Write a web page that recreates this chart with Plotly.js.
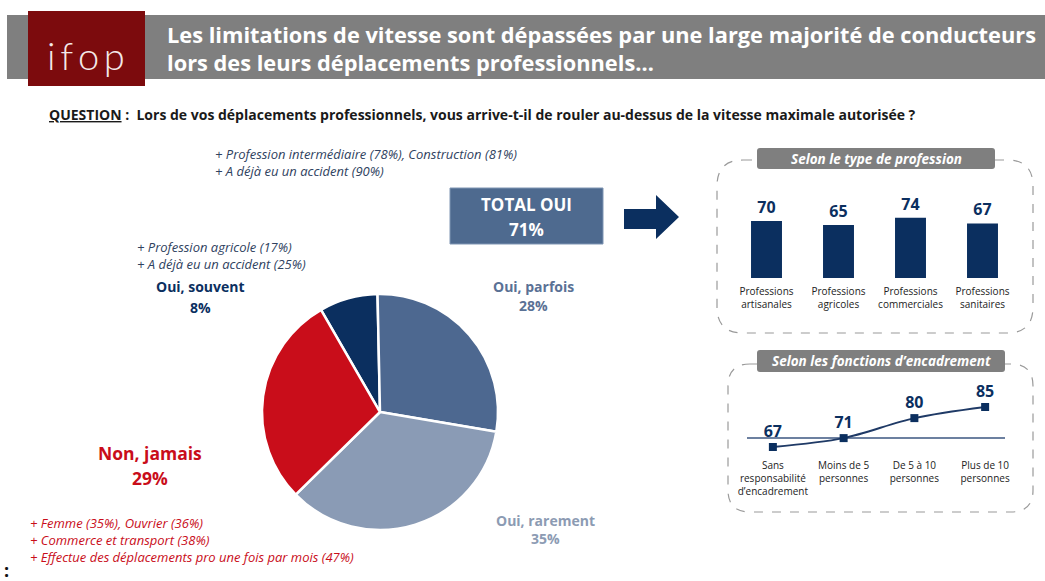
<!DOCTYPE html>
<html>
<head>
<meta charset="utf-8">
<script src="https://cdn.plot.ly/plotly-3.0.1.min.js"></script>
<style>
  html, body { margin: 0; padding: 0; background: #fff; }
  #chart { width: 1045px; height: 581px; }
</style>
</head>
<body>
<div id="chart"></div>
<script>
  const W = 1045;
  const H = 581;
  const FONT = "'Open Sans', Lato, sans-serif";
  const NAVY = "#0b2f5f";

  // data
  const headerLines = [
    "Les limitations de vitesse sont dépassées par une large majorité de conducteurs",
    "lors des leurs déplacements professionnels…",
  ];
  const questionText = "Lors de vos déplacements professionnels, vous arrive-t-il de rouler au-dessus de la vitesse maximale autorisée ?";

  const pieLabels = ["Oui, souvent", "Oui, parfois", "Oui, rarement", "Non, jamais"];
  const pieValues = [8, 28, 35, 29];
  const pieColors = [NAVY, "#4d6890", "#8a9bb5", "#c90d1a"];
  const totalOui = 71;

  const notesOften = ["+ Profession agricole (17%)", "+ A déjà eu un accident (25%)"];
  const notesSometimes = ["+ Profession intermédiaire (78%), Construction (81%)", "+ A déjà eu un accident (90%)"];
  const notesNever = [
    "+ Femme (35%), Ouvrier (36%)",
    "+ Commerce et transport (38%)",
    "+ Effectue des déplacements pro une fois par mois (47%)",
  ];

  const profCategories = [
    "Professions<br>artisanales",
    "Professions<br>agricoles",
    "Professions<br>commerciales",
    "Professions<br>sanitaires",
  ];
  const profValues = [70, 65, 74, 67];

  const encCategories = [
    "Sans<br>responsabilité<br>d’encadrement",
    "Moins de 5<br>personnes",
    "De 5 à 10<br>personnes",
    "Plus de 10<br>personnes",
  ];
  const encValues = [67, 71, 80, 85];

  // pixel -> paper helpers
  const X = (p) => p / W;
  const Y = (p) => 1 - p / H;

  function roundRect(x0, y0, x1, y1, r) {
    const pt = (x, y) => X(x) + "," + Y(y);
    return "M" + pt(x0 + r, y0) +
      " L" + pt(x1 - r, y0) + " Q" + pt(x1, y0) + " " + pt(x1, y0 + r) +
      " L" + pt(x1, y1 - r) + " Q" + pt(x1, y1) + " " + pt(x1 - r, y1) +
      " L" + pt(x0 + r, y1) + " Q" + pt(x0, y1) + " " + pt(x0, y1 - r) +
      " L" + pt(x0, y0 + r) + " Q" + pt(x0, y0) + " " + pt(x0 + r, y0) + " Z";
  }

  function polygon(points) {
    return "M" + points.map((p) => X(p[0]) + "," + Y(p[1])).join(" L") + " Z";
  }

  function note(x, y, text, size, color, extra) {
    return Object.assign({
      xref: "paper", yref: "paper", x: X(x), y: Y(y),
      xanchor: "center", yanchor: "middle",
      text: text, showarrow: false,
      font: { family: FONT, size: size, color: color },
    }, extra || {});
  }

  const traces = [
    {
      type: "pie",
      labels: pieLabels,
      values: pieValues,
      sort: false,
      direction: "clockwise",
      rotation: -30,
      textinfo: "none",
      hoverinfo: "label+percent",
      marker: { colors: pieColors, line: { color: "#ffffff", width: 2.5 } },
      domain: { x: [X(262), X(498)], y: [Y(530), Y(294)] },
    },
    {
      type: "bar",
      x: profCategories,
      y: profValues,
      xaxis: "x",
      yaxis: "y",
      width: 0.43,
      marker: { color: NAVY },
      text: profValues.map(String),
      textposition: "outside",
      cliponaxis: false,
      textfont: { family: FONT, size: 16, color: NAVY, weight: 700 },
      hoverinfo: "x+y",
    },
    {
      type: "scatter",
      mode: "lines+markers+text",
      x: encCategories,
      y: encValues,
      xaxis: "x2",
      yaxis: "y2",
      line: { color: "#1f3a66", width: 2, shape: "spline", smoothing: 0.9 },
      marker: { symbol: "square", size: 8, color: NAVY },
      text: encValues.map(String),
      textposition: "top center",
      cliponaxis: false,
      textfont: { family: FONT, size: 16, color: NAVY, weight: 700 },
      hoverinfo: "x+y",
    },
  ];

  const catAxis = {
    type: "category",
    range: [-0.5, 3.5],
    showgrid: false,
    zeroline: false,
    showline: false,
    ticks: "",
    tickfont: { family: FONT, size: 10, color: "#222" },
    fixedrange: true,
  };

  const pieLabelPos = [[200, 287, 307], [533, 286, 305], [545, 520, 538], [150, 453, 478]];
  const pieLabelStyle = [
    { size: 14, color: NAVY },
    { size: 14, color: "#5a7195" },
    { size: 14, color: "#8c9bb3" },
    { size: 17.5, color: "#c90d1a" },
  ];

  const annotations = [
    note(165, 35, "<b>" + headerLines[0] + "</b>", 21.8, "#ffffff", { xanchor: "left" }),
    note(165, 62, "<b>" + headerLines[1] + "</b>", 21.8, "#ffffff", { xanchor: "left" }),
    note(86, 55, "i\u2009f\u2009o\u2009p", 38, "#f4e9e9",
      { font: { family: "Lato, sans-serif", size: 38, color: "#f4e9e9", weight: 300 } }),
    note(47, 115, "<b><u>QUESTION</u> :  " + questionText + "</b>", 14, "#1a1a1a", { xanchor: "left" }),
    note(213, 162, "<i>" + notesSometimes.join("<br>") + "</i>", 13, "#2f4260", { xanchor: "left", align: "left" }),
    note(135, 255.5, "<i>" + notesOften.join("<br>") + "</i>", 13, "#2f4260", { xanchor: "left", align: "left" }),
    note(28, 540, "<i>" + notesNever.join("<br>") + "</i>", 13, "#c90d1a", { xanchor: "left", align: "left" }),
    note(6, 570, "<b>:</b>", 18, "#111"),
    note(526, 204, "<b>TOTAL OUI</b>", 17, "#ffffff"),
    note(526, 229, "<b>" + totalOui + "%</b>", 17, "#ffffff"),
    note(876, 158.5, "<b><i>Selon le type de profession</i></b>", 13.5, "#ffffff"),
    note(881, 361, "<b><i>Selon les fonctions d’encadrement</i></b>", 13.5, "#ffffff"),
  ];
  pieLabels.forEach((lab, i) => {
    const s = pieLabelStyle[i];
    const p = pieLabelPos[i];
    annotations.push(note(p[0], p[1], "<b>" + lab + "</b>", s.size, s.color));
    annotations.push(note(p[0], p[2], "<b>" + pieValues[i] + "%</b>", s.size, s.color));
  });

  const shapes = [
    { type: "rect", xref: "paper", yref: "paper", x0: X(7), x1: X(1045), y0: Y(79), y1: Y(15),
      fillcolor: "#7f7f7f", line: { width: 0 } },
    { type: "rect", xref: "paper", yref: "paper", x0: X(28), x1: X(145), y0: Y(86), y1: Y(11),
      fillcolor: "#7c0b0d", line: { width: 0 } },
    { type: "rect", xref: "paper", yref: "paper", x0: X(450), x1: X(603), y0: Y(244), y1: Y(188),
      fillcolor: "#4e6a8f", line: { color: "#7f95b3", width: 1 } },
    { type: "path", xref: "paper", yref: "paper",
      path: polygon([[624, 209], [656, 209], [656, 195], [679, 217], [656, 239], [656, 229], [624, 229]]),
      fillcolor: NAVY, line: { width: 0 } },
    { type: "path", xref: "paper", yref: "paper", path: roundRect(717, 160, 1033, 333, 26),
      line: { color: "#9a9a9a", width: 1.2, dash: "dash" } },
    { type: "path", xref: "paper", yref: "paper", path: roundRect(757, 148, 995, 169, 3),
      fillcolor: "#7f7f7f", line: { width: 0 } },
    { type: "path", xref: "paper", yref: "paper", path: roundRect(728, 364, 1033, 512, 22),
      line: { color: "#9a9a9a", width: 1.2, dash: "dash" } },
    { type: "path", xref: "paper", yref: "paper", path: roundRect(757, 350, 1005, 372, 3),
      fillcolor: "#7f7f7f", line: { width: 0 } },
    { type: "line", xref: "paper", yref: "y2", x0: X(747), x1: X(1005), y0: totalOui, y1: totalOui,
      line: { color: "#3b5680", width: 1.5 }, layer: "below" },
  ];

  const layout = {
    width: W,
    height: H,
    margin: { l: 0, r: 0, t: 0, b: 0 },
    paper_bgcolor: "#ffffff",
    plot_bgcolor: "rgba(0,0,0,0)",
    showlegend: false,
    font: { family: FONT, color: "#222" },
    xaxis: Object.assign({}, catAxis, { domain: [X(730.5), X(1018.5)], anchor: "y", ticklabelstandoff: 6 }),
    yaxis: { domain: [Y(278), Y(204.7)], range: [0, 90], visible: false, fixedrange: true, anchor: "x" },
    xaxis2: Object.assign({}, catAxis, { domain: [X(737.5), X(1020.5)], anchor: "y2" }),
    yaxis2: { domain: [Y(458.1), Y(395.9)], range: [62, 90], visible: false, fixedrange: true, anchor: "x2" },
    annotations: annotations,
    shapes: shapes,
  };

  Plotly.newPlot("chart", traces, layout, { displayModeBar: false, staticPlot: true });
</script>
</body>
</html>
